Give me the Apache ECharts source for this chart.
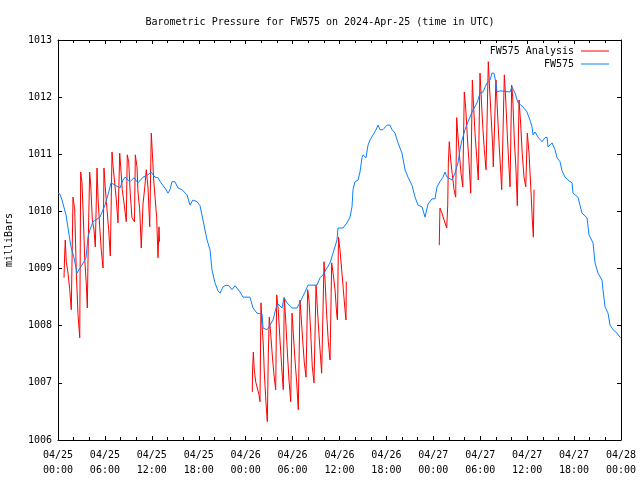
<!DOCTYPE html>
<html>
<head>
<meta charset="utf-8">
<script src="https://cdn.jsdelivr.net/npm/echarts@6/dist/echarts.min.js"></script>
<style>html,body{margin:0;padding:0;background:#fff}#c{width:640px;height:480px}</style>
</head>
<body>
<div id="c"></div>
<script>
// Hours since 2024-04-25 00:00 UTC, pressure in millibars
const titleText = 'Barometric Pressure for FW575 on 2024-Apr-25 (time in UTC)';
const xTickLabels = ['04/25\n00:00','04/25\n06:00','04/25\n12:00','04/25\n18:00','04/26\n00:00','04/26\n06:00','04/26\n12:00','04/26\n18:00','04/27\n00:00','04/27\n06:00','04/27\n12:00','04/27\n18:00','04/28\n00:00'];
const yTicks = [1006,1007,1008,1009,1010,1011,1012,1013];

const fw575 = [
[0,1010.32],[0.26,1010.30],[0.51,1010.20],[1.02,1009.94],[1.66,1009.38],[2.05,1009.19],[2.43,1008.92],[2.69,1008.98],[2.94,1009.01],[3.32,1009.12],[3.58,1009.19],[3.84,1009.55],[4.09,1009.68],[4.48,1009.82],[5.37,1009.90],[5.76,1010.03],[6.01,1010.11],[6.39,1010.29],[6.78,1010.50],[7.29,1010.46],[7.93,1010.41],[8.31,1010.55],[8.57,1010.60],[9.21,1010.52],[9.72,1010.59],[10.23,1010.50],[10.87,1010.60],[11.51,1010.64],[11.89,1010.69],[12.41,1010.60],[12.79,1010.59],[13.17,1010.50],[13.68,1010.41],[14.07,1010.32],[14.32,1010.38],[14.58,1010.52],[14.96,1010.52],[15.35,1010.41],[15.86,1010.38],[16.50,1010.29],[16.88,1010.11],[17.26,1010.20],[17.78,1010.17],[18.16,1010.10],[18.54,1009.85],[19.06,1009.50],[19.44,1009.33],[19.69,1008.98],[20.08,1008.75],[20.46,1008.61],[20.72,1008.57],[21.10,1008.68],[21.49,1008.71],[21.87,1008.70],[22.25,1008.63],[22.64,1008.70],[23.28,1008.59],[23.66,1008.50],[24.55,1008.50],[24.94,1008.31],[25.45,1008.22],[25.83,1008.21],[26.09,1008.21],[26.22,1007.96],[26.73,1007.93],[27.11,1008.01],[27.50,1008.10],[27.88,1008.31],[28.14,1008.38],[28.65,1008.31],[28.90,1008.49],[29.29,1008.40],[29.93,1008.31],[30.57,1008.31],[30.95,1008.41],[31.59,1008.59],[31.97,1008.71],[33.12,1008.71],[33.51,1008.84],[33.89,1008.89],[34.40,1009.01],[34.79,1009.10],[35.17,1009.27],[35.68,1009.50],[35.81,1009.71],[36.45,1009.71],[36.96,1009.80],[37.34,1009.90],[37.60,1010.08],[37.73,1010.38],[37.98,1010.52],[38.37,1010.55],[38.62,1010.69],[38.88,1010.94],[39.01,1010.99],[39.39,1010.94],[39.65,1011.16],[39.90,1011.25],[40.29,1011.34],[40.67,1011.43],[40.93,1011.51],[41.18,1011.43],[41.56,1011.43],[42.08,1011.51],[42.46,1011.51],[42.72,1011.43],[43.10,1011.37],[43.48,1011.20],[43.99,1011.02],[44.38,1010.73],[44.76,1010.60],[45.27,1010.46],[45.66,1010.25],[46.04,1010.11],[46.55,1010.08],[46.94,1009.90],[47.32,1010.13],[47.83,1010.22],[48.21,1010.22],[48.47,1010.43],[48.85,1010.52],[49.24,1010.60],[49.49,1010.69],[49.75,1010.60],[50.39,1010.55],[50.77,1010.67],[51.16,1010.85],[51.41,1011.08],[51.67,1011.25],[52.05,1011.43],[52.44,1011.57],[52.95,1011.74],[53.59,1011.90],[53.97,1012.07],[54.35,1012.09],[54.86,1012.25],[55.25,1012.30],[55.50,1012.42],[55.76,1012.42],[56.01,1012.25],[56.14,1012.09],[56.53,1012.11],[57.81,1012.09],[58.06,1012.18],[58.45,1012.07],[58.83,1011.90],[59.47,1011.83],[59.98,1011.74],[60.36,1011.60],[60.62,1011.48],[60.75,1011.34],[61.00,1011.39],[61.39,1011.30],[61.90,1011.22],[62.28,1011.29],[62.54,1011.30],[62.67,1011.13],[63.18,1011.20],[63.56,1011.08],[63.82,1010.94],[64.20,1010.87],[64.46,1010.71],[64.84,1010.60],[65.22,1010.55],[65.74,1010.50],[65.86,1010.32],[66.50,1010.25],[67.01,1009.97],[67.65,1009.89],[67.91,1009.59],[68.42,1009.45],[68.68,1009.10],[69.06,1008.92],[69.57,1008.80],[69.70,1008.63],[69.96,1008.33],[70.34,1008.22],[70.60,1008.01],[70.98,1007.93],[71.49,1007.87],[71.87,1007.80],[72,1007.78]
];

const analysisDay1 = [
[0.77,1008.84],[0.84,1009.20],[0.93,1009.50],[1.06,1009.12],[1.28,1008.92],[1.50,1008.63],[1.70,1008.28],
[1.92,1010.25],[2.14,1010.03],[2.34,1008.94],[2.56,1008.19],[2.78,1007.79],
[2.90,1010.69],[3.07,1010.50],[3.29,1009.71],[3.41,1009.19],[3.62,1008.73],[3.75,1008.31],
[3.88,1009.55],[4.05,1010.69],[4.18,1010.48],[4.39,1009.85],[4.60,1009.68],[4.77,1009.38],
[4.99,1010.76],[5.12,1010.24],[5.33,1009.73],[5.54,1009.31],[5.76,1009.01],
[5.88,1010.76],[6.05,1010.41],[6.27,1010.03],[6.48,1009.68],[6.69,1009.22],
[6.91,1011.04],[7.03,1010.81],[7.25,1010.50],[7.46,1010.20],[7.67,1009.80],
[7.89,1011.02],[8.02,1010.78],[8.22,1010.38],[8.44,1010.15],[8.73,1009.82],
[8.86,1010.99],[9.04,1010.87],[9.25,1010.29],[9.46,1009.89],[9.78,1009.82],
[9.89,1010.99],[10.10,1010.78],[10.23,1010.34],[10.45,1010.03],[10.65,1009.36],
[10.87,1010.13],[11.09,1010.41],[11.29,1010.73],[11.51,1010.41],[11.73,1009.73],
[11.93,1011.37],[12.06,1011.04],[12.24,1010.55],[12.44,1010.20],[12.62,1009.89],[12.79,1009.19],
[12.92,1009.73],[12.98,1009.47]
];
const analysisDay2 = [
[24.85,1006.84],[24.87,1007.19],[24.98,1007.54],[25.10,1007.23],[25.28,1007.02],[25.49,1007.00],[25.71,1006.79],[25.83,1006.67],
[25.96,1008.40],[26.05,1008.10],[26.26,1007.66],[26.38,1007.19],[26.60,1006.65],[26.77,1006.32],
[26.90,1007.52],[27.02,1008.15],[27.20,1007.86],[27.41,1007.47],[27.62,1007.14],[27.84,1006.88],
[27.97,1008.54],[28.17,1008.28],[28.39,1007.75],[28.61,1007.28],[28.81,1006.88],
[28.94,1008.49],[29.12,1008.10],[29.33,1007.54],[29.54,1007.05],[29.76,1006.67],
[29.93,1008.22],[30.09,1007.87],[30.31,1007.40],[30.53,1007.00],[30.73,1006.53],
[30.95,1008.45],[31.08,1008.19],[31.29,1007.75],[31.50,1007.35],[31.72,1007.10],
[31.93,1008.63],[32.10,1008.45],[32.32,1007.87],[32.52,1007.28],[32.74,1007.00],
[33.00,1008.71],[33.16,1008.33],[33.38,1007.84],[33.60,1007.40],[33.72,1007.17],
[34.02,1009.12],[34.15,1008.80],[34.36,1008.19],[34.57,1007.72],[34.79,1007.40],
[35.00,1009.10],[35.21,1008.89],[35.43,1008.63],[35.65,1008.19],[35.74,1008.10],
[35.87,1009.55],[36.06,1009.33],[36.28,1008.98],[36.49,1008.63],[36.70,1008.28],[36.83,1008.10],[36.87,1008.77]
];
const analysisDay3 = [
[48.76,1009.41],[48.80,1009.73],[48.85,1010.06],[49.11,1009.97],[49.37,1009.85],[49.71,1009.71],
[49.84,1010.11],[49.92,1010.85],[50.04,1011.22],[50.22,1010.90],[50.43,1010.64],[50.65,1010.38],[50.86,1010.25],
[50.99,1011.64],[51.12,1011.37],[51.32,1011.02],[51.54,1010.67],[51.76,1010.43],
[51.96,1012.09],[52.14,1011.81],[52.35,1011.30],[52.56,1010.87],[52.78,1010.32],
[52.99,1012.30],[53.11,1011.95],[53.33,1011.37],[53.55,1010.95],[53.75,1010.55],
[53.97,1012.42],[54.10,1012.07],[54.31,1011.51],[54.52,1011.08],[54.74,1010.73],
[55.03,1012.62],[55.16,1012.25],[55.38,1011.69],[55.59,1011.13],[55.67,1010.78],
[56.01,1012.30],[56.18,1011.81],[56.40,1011.20],[56.62,1010.69],[56.74,1010.38],
[57.08,1012.39],[57.26,1011.95],[57.46,1011.34],[57.68,1010.76],[57.81,1010.43],
[58.02,1012.21],[58.15,1012.00],[58.36,1011.25],[58.57,1010.73],[58.74,1010.10],
[58.96,1011.95],[59.18,1011.51],[59.38,1010.99],[59.60,1010.60],[59.82,1010.43],
[60.02,1011.37],[60.24,1011.02],[60.45,1010.46],[60.66,1009.85],[60.79,1009.55],
[60.88,1010.38]
];

const analysis = [].concat(analysisDay1, [[18, '-']], analysisDay2, [[42, '-']], analysisDay3);

const FONT = 'DejaVu Sans Mono';
const chart = echarts.init(document.getElementById('c'), null, {renderer: 'canvas'});

const baseX = {
  type: 'value', min: 0, max: 72, interval: 6,
  axisLine: {show: true, onZero: false, lineStyle: {color: '#000', width: 1}},
  axisTick: {show: true, inside: true, length: 4, lineStyle: {color: '#000'}},
  minorTick: {show: true, splitNumber: 3, length: 3, lineStyle: {color: '#000'}},
  splitLine: {show: false}, minorSplitLine: {show: false}
};
const baseY = {
  type: 'value', min: yTicks[0], max: yTicks[yTicks.length - 1], interval: 1,
  axisLine: {show: true, onZero: false, lineStyle: {color: '#000', width: 1}},
  axisTick: {show: true, inside: true, length: 4, lineStyle: {color: '#000'}},
  splitLine: {show: false}
};

chart.setOption({
  animation: false,
  backgroundColor: '#fff',
  title: {
    text: titleText, left: 'center', top: 12,
    textStyle: {fontFamily: FONT, fontSize: 10, fontWeight: 'normal', color: '#000'}
  },
  legend: [
    {data: [{name: 'FW575 Analysis'}], right: 31, top: 46, align: 'right', orient: 'vertical',
     itemWidth: 28, itemHeight: 1, icon: 'rect', padding: 0, itemGap: 0,
     textStyle: {fontFamily: FONT, fontSize: 10, color: '#000', padding: [0, 2, 0, 0]}},
    {data: [{name: 'FW575'}], right: 31, top: 59, align: 'right', orient: 'vertical',
     itemWidth: 28, itemHeight: 1, icon: 'rect', padding: 0, itemGap: 0,
     textStyle: {fontFamily: FONT, fontSize: 10, color: '#000', padding: [0, 2, 0, 0]}}
  ],
  grid: {left: 58, right: 19, top: 40, bottom: 40, containLabel: false, outerBoundsMode: 'none'},
  xAxis: [
    Object.assign({}, baseX, {
      position: 'bottom',
      axisLabel: {
        show: true, margin: 8, fontFamily: FONT, fontSize: 10, color: '#000', lineHeight: 15,
        formatter: v => xTickLabels[Math.round(v / 6)] || ''
      }
    }),
    Object.assign({}, baseX, {position: 'top', axisLabel: {show: false}})
  ],
  yAxis: [
    Object.assign({}, baseY, {
      position: 'left', name: 'milliBars', nameLocation: 'middle', nameGap: 44, nameRotate: 90,
      nameTextStyle: {fontFamily: FONT, fontSize: 10, color: '#000'},
      axisLabel: {show: true, margin: 6, fontFamily: FONT, fontSize: 10, color: '#000',
        formatter: v => String(v)}
    }),
    Object.assign({}, baseY, {position: 'right', axisLabel: {show: false}})
  ],
  series: [
    {name: 'FW575 Analysis', type: 'line', data: analysis, showSymbol: false, symbol: 'none',
     connectNulls: false, lineStyle: {color: '#ff0000', width: 1}, itemStyle: {color: '#ff0000'}, z: 2},
    {name: 'FW575', type: 'line', data: fw575, showSymbol: false, symbol: 'none',
     lineStyle: {color: '#0a80ff', width: 1}, itemStyle: {color: '#0a80ff'}, z: 3}
  ]
});
</script>
</body>
</html>
